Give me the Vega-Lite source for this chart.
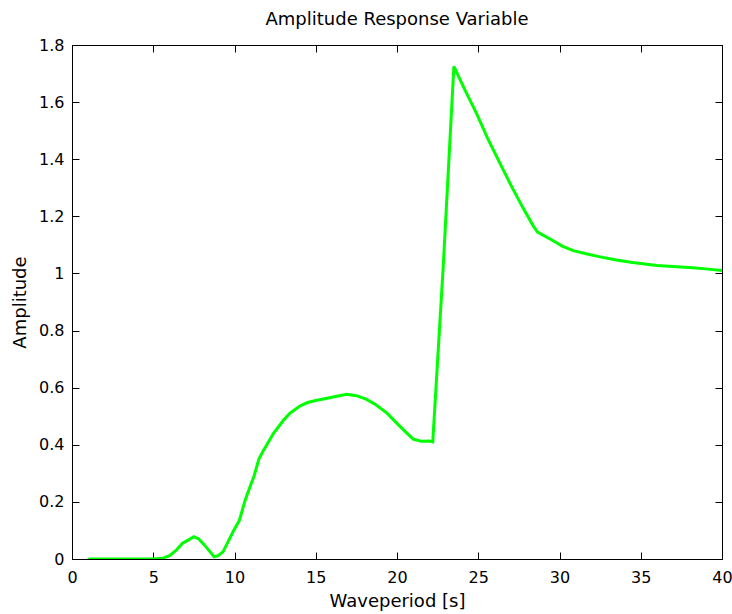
{
  "$schema": "https://vega.github.io/schema/vega-lite/v6.json",
  "autosize": "none",
  "padding": {"left": 72, "top": 45, "right": 10, "bottom": 55},
  "width": 650,
  "height": 514,
  "background": "white",
  "title": {"text": "Amplitude Response Variable", "fontSize": 18, "font": "DejaVu Sans", "fontWeight": "normal", "color": "black", "offset": 8, "anchor": "middle"},
  "config": {
    "view": {"stroke": "black", "strokeWidth": 1},
    "axis": {"grid": false, "labelFlush": false, "domainColor": "black", "tickColor": "black", "tickSize": -7, "labelFont": "DejaVu Sans", "labelFontSize": 16, "labelColor": "black", "titleFont": "DejaVu Sans", "titleFontSize": 18, "titleFontWeight": "normal", "titleColor": "black"}
  },
  "data": {"values": [
    {"period": 1, "amp": 0}, {"period": 2, "amp": 0}, {"period": 3, "amp": 0}, {"period": 4, "amp": 0}, {"period": 5, "amp": 0},
    {"period": 5.6, "amp": 0.003}, {"period": 6.0, "amp": 0.012}, {"period": 6.4, "amp": 0.03}, {"period": 6.8, "amp": 0.055},
    {"period": 7.2, "amp": 0.068}, {"period": 7.5, "amp": 0.078}, {"period": 7.8, "amp": 0.07}, {"period": 8.1, "amp": 0.052},
    {"period": 8.4, "amp": 0.032}, {"period": 8.75, "amp": 0.008}, {"period": 9.0, "amp": 0.012}, {"period": 9.3, "amp": 0.026},
    {"period": 9.6, "amp": 0.06}, {"period": 9.95, "amp": 0.1}, {"period": 10.3, "amp": 0.135}, {"period": 10.65, "amp": 0.205},
    {"period": 11.0, "amp": 0.26}, {"period": 11.2, "amp": 0.29}, {"period": 11.5, "amp": 0.35}, {"period": 11.8, "amp": 0.382},
    {"period": 12.4, "amp": 0.44}, {"period": 13.0, "amp": 0.485}, {"period": 13.4, "amp": 0.51}, {"period": 14.0, "amp": 0.535},
    {"period": 14.5, "amp": 0.548}, {"period": 15.0, "amp": 0.555}, {"period": 15.7, "amp": 0.563}, {"period": 16.3, "amp": 0.57},
    {"period": 16.9, "amp": 0.577}, {"period": 17.5, "amp": 0.572}, {"period": 18.1, "amp": 0.56}, {"period": 18.7, "amp": 0.54},
    {"period": 19.4, "amp": 0.51}, {"period": 20.0, "amp": 0.475}, {"period": 20.4, "amp": 0.452}, {"period": 21.0, "amp": 0.42},
    {"period": 21.5, "amp": 0.412}, {"period": 22.0, "amp": 0.413}, {"period": 22.2, "amp": 0.41}, {"period": 22.85, "amp": 1.03},
    {"period": 23.5, "amp": 1.725}, {"period": 24.2, "amp": 1.64}, {"period": 24.9, "amp": 1.56}, {"period": 25.6, "amp": 1.47},
    {"period": 26.3, "amp": 1.39}, {"period": 27.0, "amp": 1.31}, {"period": 27.7, "amp": 1.235}, {"period": 28.4, "amp": 1.165},
    {"period": 28.65, "amp": 1.145}, {"period": 29.5, "amp": 1.118}, {"period": 30.2, "amp": 1.095}, {"period": 30.85, "amp": 1.08},
    {"period": 31.7, "amp": 1.068}, {"period": 32.5, "amp": 1.058}, {"period": 33.5, "amp": 1.047}, {"period": 34.5, "amp": 1.038},
    {"period": 36.0, "amp": 1.028}, {"period": 37.0, "amp": 1.024}, {"period": 38.2, "amp": 1.02}, {"period": 39.0, "amp": 1.016},
    {"period": 40.0, "amp": 1.01}
  ]},
  "layer": [
    {
      "mark": {"type": "line", "color": "#00ff00", "strokeWidth": 3, "clip": true},
      "encoding": {
        "x": {"field": "period", "type": "quantitative", "scale": {"domain": [0, 40], "nice": false, "zero": false},
              "axis": {"orient": "bottom", "title": "Waveperiod [s]", "values": [0, 5, 10, 15, 20, 25, 30, 35, 40], "labelPadding": 17, "titlePadding": 7}},
        "y": {"field": "amp", "type": "quantitative", "scale": {"domain": [0, 1.8], "nice": false},
              "axis": {"orient": "left", "title": "Amplitude", "format": "~g", "values": [0, 0.2, 0.4, 0.6, 0.8, 1, 1.2, 1.4, 1.6, 1.8], "labelPadding": 15, "titlePadding": 9}}
      }
    },
    {
      "mark": {"type": "line", "opacity": 0},
      "encoding": {
        "x": {"field": "period", "type": "quantitative", "axis": {"orient": "top", "labels": false, "title": null, "domain": false, "values": [0, 5, 10, 15, 20, 25, 30, 35, 40]}},
        "y": {"field": "amp", "type": "quantitative", "axis": {"orient": "right", "labels": false, "title": null, "domain": false, "values": [0, 0.2, 0.4, 0.6, 0.8, 1, 1.2, 1.4, 1.6, 1.8]}}
      }
    }
  ],
  "resolve": {"axis": {"x": "independent", "y": "independent"}}
}
